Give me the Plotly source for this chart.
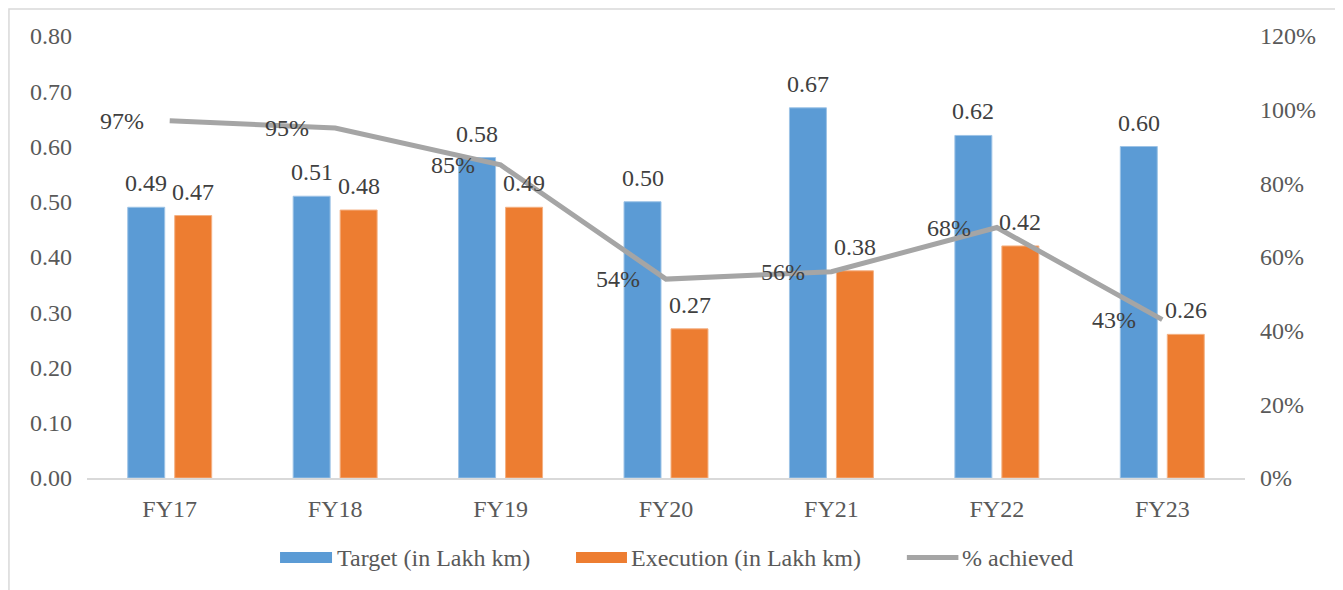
import plotly.graph_objects as go

years = ["FY17", "FY18", "FY19", "FY20", "FY21", "FY22", "FY23"]
target = [0.49, 0.51, 0.58, 0.50, 0.67, 0.62, 0.60]
execution = [0.475, 0.485, 0.49, 0.27, 0.375, 0.42, 0.26]
achieved = [0.97, 0.95, 0.85, 0.54, 0.56, 0.68, 0.43]

BLUE = "#5B9BD5"
ORANGE = "#ED7D31"
GREY = "#A5A5A5"
FONT = "Liberation Serif"
SIZE = 24

fig = go.Figure()

fig.add_trace(go.Bar(
    x=years, y=target, name="Target (in Lakh km)",
    marker=dict(color=BLUE, line=dict(color="#9DC3E6", width=1)),
))
fig.add_trace(go.Bar(
    x=years, y=execution, name="Execution (in Lakh km)",
    marker=dict(color=ORANGE, line=dict(color="#F4B183", width=1)),
))
fig.add_trace(go.Scatter(
    x=years, y=achieved, name="% achieved", yaxis="y2",
    mode="lines", line=dict(color=GREY, width=5),
))

# Data labels
ann = []
for yr, t, e, p in zip(years, target, execution, achieved):
    ann.append(dict(x=yr, y=t, text=f"{t:.2f}", xshift=-23.5, yshift=9,
                    xanchor="center", yanchor="bottom", showarrow=False))
    ann.append(dict(x=yr, y=e, text=f"{e:.2f}", xshift=23.5, yshift=9,
                    xanchor="center", yanchor="bottom", showarrow=False))
    ann.append(dict(x=yr, y=p, yref="y2", text=f"{p:.0%}", xshift=-24,
                    xanchor="right", yanchor="middle", showarrow=False))
for a in ann:
    a["font"] = dict(family=FONT, size=SIZE, color="#404040")

# Excel-style legend: wide swatches under the plot
leg_y = -0.180
shapes = [
    dict(type="rect", xref="paper", yref="paper", x0=0.1667, x1=0.2116,
         y0=-0.1923, y1=-0.1674, fillcolor=BLUE, line=dict(width=0)),
    dict(type="rect", xref="paper", yref="paper", x0=0.4223, x1=0.4663,
         y0=-0.1923, y1=-0.1674, fillcolor=ORANGE, line=dict(width=0)),
    dict(type="line", xref="paper", yref="paper", x0=0.7080, x1=0.7525,
         y0=leg_y, y1=leg_y, line=dict(color=GREY, width=5)),
    # chart border
    dict(type="rect", xref="paper", yref="paper", x0=-0.0674, x1=1.0803,
         y0=-0.30, y1=1.0611, line=dict(color="#D9D9D9", width=1.5), layer="below"),
]
for x, label in [(0.2142, "Target (in Lakh km)"), (0.4680, "Execution (in Lakh km)"),
                 (0.7540, "% achieved")]:
    ann.append(dict(x=x, y=leg_y, xref="paper", yref="paper", text=label,
                    xanchor="left", yanchor="middle", showarrow=False,
                    font=dict(family=FONT, size=SIZE, color="#595959")))

fig.update_layout(
    width=1335, height=582,
    paper_bgcolor="white", plot_bgcolor="white",
    font=dict(family=FONT, size=SIZE, color="#595959"),
    margin=dict(l=79, r=98, t=28, b=112),
    barmode="group", bargap=0.432, bargroupgap=0.213,
    annotations=ann, shapes=shapes,
    showlegend=False,
    xaxis=dict(showgrid=False, showline=True, linecolor="#D9D9D9", linewidth=1.5,
               ticks="", ticklabelstandoff=8, zeroline=False),
    yaxis=dict(range=[0, 0.8], dtick=0.1, tickformat=".2f", showgrid=False,
               zeroline=False, showline=False, ticklabelstandoff=14),
    yaxis2=dict(range=[0, 1.2], dtick=0.2, tickformat=".0%", overlaying="y",
                side="right", showgrid=False, zeroline=False, showline=False,
                ticklabelstandoff=14),
)

fig.write_html("out.html")
